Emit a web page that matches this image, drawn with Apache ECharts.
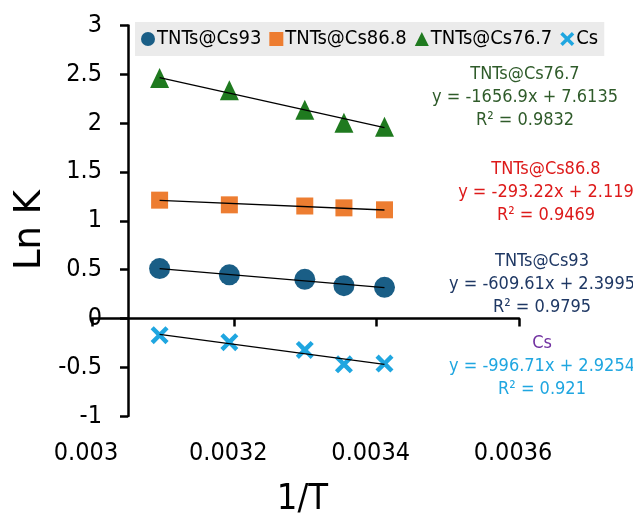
<!DOCTYPE html>
<html>
<head>
<meta charset="utf-8">
<script src="https://cdn.jsdelivr.net/npm/echarts@6/dist/echarts.min.js"></script>
<style>html,body{margin:0;padding:0;background:#fff;}#c{width:633px;height:513px;}</style>
</head>
<body>
<div id="c"></div>
<script>
// 1/T values (K^-1)
const invT = [0.003095, 0.003193, 0.003299, 0.003354, 0.003411];
// Ln K values
const cs93   = [0.510, 0.446, 0.400, 0.335, 0.318];
const cs868  = [1.211, 1.163, 1.151, 1.132, 1.112];
const cs767  = [2.461, 2.338, 2.136, 2.005, 1.962];
const csOnly = [-0.172, -0.244, -0.323, -0.471, -0.463];
// trendline end values (at first and last 1/T)
const trendX    = [0.003095, 0.003411];
const trend93   = [0.509, 0.315];
const trend868  = [1.209, 1.110];
const trend767  = [2.467, 1.954];
const trendCs   = [-0.164, -0.471];
const names = ['TNTs@Cs93', 'TNTs@Cs86.8', 'TNTs@Cs76.7', 'Cs'];
const xTicks = [0.003, 0.0032, 0.0034, 0.0036];
const annotations = [
  ['TNTs@Cs76.7', 'y = -1656.9x + 7.6135', 'R² = 0.9832'],
  ['TNTs@Cs86.8', 'y = -293.22x + 2.119', 'R² = 0.9469'],
  ['TNTs@Cs93', 'y = -609.61x + 2.3995', 'R² = 0.9795'],
  ['Cs', 'y = -996.71x + 2.9254', 'R² = 0.921']
];

const FONT = '"DejaVu Sans Condensed", "DejaVu Sans", sans-serif';
const crossPath = 'path://M3.5,0 L10,6.5 L16.5,0 L20,3.5 L13.5,10 L20,16.5 L16.5,20 L10,13.5 L3.5,20 L0,16.5 L6.5,10 L0,3.5 Z';

function pts(ys) { return invT.map((x, i) => [x, ys[i]]); }
function tpts(ys) { return trendX.map((x, i) => [x, ys[i]]); }

const chart = echarts.init(document.getElementById('c'), null, {renderer: 'canvas'});

const scatterDefs = [
  {name: names[0], data: cs93, symbol: 'circle', size: 21, color: '#1a5e86'},
  {name: names[1], data: cs868, symbol: 'rect', size: 17, color: '#ed7d31'},
  {name: names[2], data: cs767, symbol: 'triangle', size: [19, 20], color: '#1f7a1f'},
  {name: names[3], data: csOnly, symbol: crossPath, size: 18, color: '#1fa6e0'}
];
const trends = [trend93, trend868, trend767, trendCs];

const series = [];
scatterDefs.forEach(d => {
  series.push({
    type: 'scatter', name: d.name, data: pts(d.data),
    symbol: d.symbol, symbolSize: d.size,
    itemStyle: {color: d.color, opacity: 1},
    z: 2
  });
});
trends.forEach(t => {
  series.push({
    type: 'line', data: tpts(t), showSymbol: false, symbol: 'none',
    lineStyle: {color: '#000', width: 1.3}, silent: true, z: 3
  });
});

const annoColors = [
  ['#2f5b2a', '#2f5b2a', '#2f5b2a'],
  ['#dd1a1a', '#dd1a1a', '#dd1a1a'],
  ['#1f3864', '#1f3864', '#1f3864'],
  ['#7030a0', '#1fa6e0', '#1fa6e0']
];
const annoX = [525, 546, 542, 542];
const annoY = [74, 169, 261, 343];
const graphic = [];
annotations.forEach((lines, k) => {
  lines.forEach((txt, j) => {
    graphic.push({
      type: 'text',
      x: annoX[k], y: annoY[k] + j * 23,
      style: {text: txt, fill: annoColors[k][j], font: '18px ' + FONT,
              textAlign: 'center', textVerticalAlign: 'middle'}
    });
  });
});
graphic.push({
  type: 'text', x: 30, y: 230, rotation: Math.PI / 2,
  style: {text: 'Ln K', fill: '#000', font: '37px "DejaVu Sans", sans-serif',
          textAlign: 'center', textVerticalAlign: 'middle'}
});

chart.setOption({
  animation: false,
  backgroundColor: '#fff',
  textStyle: {fontFamily: FONT},
  grid: {left: 92, right: 114, top: 25.5, bottom: 97, outerBoundsMode: 'none'},
  legend: {
    data: names, left: 135, top: 22,
    backgroundColor: '#ebebeb', padding: [7, 6, 7, 6],
    itemWidth: 14, itemHeight: 14, itemGap: 8,
    textStyle: {fontSize: 20, color: '#000', fontFamily: FONT, padding: [0, 0, 0, -3]}
  },
  xAxis: [
    {
      type: 'value', min: 0.003, max: 0.0036, interval: 0.0002, position: 'bottom',
      axisLine: {onZero: true, lineStyle: {color: '#000', width: 2.5}},
      axisTick: {show: true, length: 8, lineStyle: {color: '#000', width: 2.5}},
      axisLabel: {show: false}, splitLine: {show: false}
    },
    {
      type: 'value', min: 0.003, max: 0.0036, interval: 0.0002, position: 'bottom',
      axisLine: {show: false, onZero: false}, axisTick: {show: false}, splitLine: {show: false},
      axisLabel: {show: true, margin: 25, fontSize: 25, color: '#000', fontFamily: FONT,
        padding: [0, 12, 0, 0],
        formatter: v => { const s = xTicks.find(t => Math.abs(t - v) < 1e-9); return s !== undefined ? String(s) : ''; }},
      name: '1/T', nameLocation: 'middle', nameGap: 66,
      nameTextStyle: {fontSize: 36, color: '#000', fontFamily: FONT, padding: [0, 6, 0, 0]}
    }
  ],
  yAxis: {
    type: 'value', min: -1, max: 3, interval: 0.5, offset: -36,
    axisLine: {show: true, onZero: false, lineStyle: {color: '#000', width: 2.5}},
    axisTick: {show: true, length: 8, lineStyle: {color: '#000', width: 2.5}},
    axisLabel: {margin: 26, fontSize: 25, color: '#000', fontFamily: FONT},
    splitLine: {show: false}
  },
  graphic: graphic,
  series: series
});
</script>
</body>
</html>
